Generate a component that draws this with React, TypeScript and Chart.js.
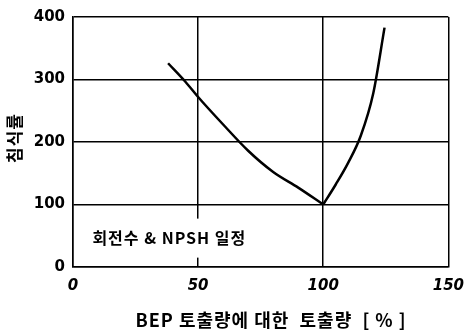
import React, { useEffect, useRef } from "react";
import { Chart, registerables } from "chart.js";

Chart.register(...registerables);

const leftX = [38, 45, 50, 60, 70, 80, 90, 100];
const leftY = [326, 296, 272, 228, 186, 152, 127, 100];
const rightX = [100, 105, 110, 115, 120, 124.5];
const rightY = [100, 132, 167, 210, 278, 383];
const xTicks = [0, 50, 100, 150];
const yTicks = [0, 100, 200, 300, 400];
const xTitle = "BEP 토출량에 대한  토출량  [ % ]";
const yTitle = "침식률";
const note = "회전수 & NPSH 일정";

const KR = '"Noto Sans CJK KR", "DejaVu Sans", sans-serif';

const textPlugin = {
  id: "texts",
  beforeDatasetsDraw(chart: any) {
    const { ctx, scales } = chart;
    const x = scales.x;
    const y = scales.y;
    ctx.save();
    const cx = x.getPixelForValue(38.5);
    const cy = y.getPixelForValue(47);
    ctx.fillStyle = "#fff";
    ctx.fillRect(cx - 80, cy - 19, 160, 39);
    ctx.fillStyle = "#000";
    ctx.font = "bold 16px " + KR;
    (ctx as any).letterSpacing = "1px";
    ctx.textAlign = "center";
    ctx.textBaseline = "middle";
    ctx.fillText(note, cx, cy);
    ctx.restore();
  },
  afterDraw(chart: any) {
    const { ctx } = chart;
    ctx.save();
    ctx.fillStyle = "#000";
    ctx.font = "bold 18px " + KR;
    (ctx as any).letterSpacing = "1px";
    ctx.textAlign = "center";
    ctx.textBaseline = "middle";
    ctx.fillText(xTitle, 271, 320);
    ctx.translate(15, 138);
    ctx.rotate(-Math.PI / 2);
    ctx.font = "bold 17px " + KR;
    (ctx as any).letterSpacing = "1px";
    ctx.fillText(yTitle, 0, 0);
    ctx.restore();
  },
};

export default function App() {
  const ref = useRef<HTMLCanvasElement>(null);
  useEffect(() => {
    const canvas = ref.current!;
    const chart = new Chart(canvas, {
      type: "line",
      data: {
        datasets: [
          {
            data: leftX.map((v, i) => ({ x: v, y: leftY[i] })),
            borderColor: "#000",
            borderWidth: 2.5,
            pointRadius: 0,
            cubicInterpolationMode: "monotone",
            fill: false,
          },
          {
            data: rightX.map((v, i) => ({ x: v, y: rightY[i] })),
            borderColor: "#000",
            borderWidth: 2.5,
            pointRadius: 0,
            cubicInterpolationMode: "monotone",
            fill: false,
          },
        ],
      },
      options: {
        responsive: false,
        animation: false,
        layout: { padding: { top: 14, right: 15, left: 0, bottom: 0 } },
        plugins: { legend: { display: false }, tooltip: { enabled: false } },
        scales: {
          x: {
            type: "linear",
            min: 0,
            max: 150,
            afterBuildTicks: (s: any) => {
              s.ticks = xTicks.map((v) => ({ value: v }));
            },
            afterFit: (s: any) => {
              s.height = 67;
            },
            grid: { color: "#000", lineWidth: 1.5, drawTicks: false },
            border: { display: true, color: "#000", width: 1.5 },
            ticks: {
              color: "#000",
              padding: 10,
              maxRotation: 0,
              font: { family: "DejaVu Sans", weight: "bold", style: "italic", size: 15 },
            },
          },
          y: {
            type: "linear",
            min: 0,
            max: 400,
            afterBuildTicks: (s: any) => {
              s.ticks = yTicks.map((v) => ({ value: v }));
            },
            afterFit: (s: any) => {
              s.width = 73;
            },
            grid: { color: "#000", lineWidth: 1.5, drawTicks: false },
            border: { display: true, color: "#000", width: 1.5 },
            ticks: {
              color: "#000",
              padding: 8,
              font: { family: "DejaVu Sans", weight: "bold", size: 15 },
            },
          },
        },
      },
      plugins: [textPlugin],
    } as any);
    return () => chart.destroy();
  }, []);
  return (
    <div style={{ position: "fixed", left: 0, top: 0, width: 474, height: 334, background: "#fff" }}>
      <canvas ref={ref} width={474} height={334} />
    </div>
  );
}
